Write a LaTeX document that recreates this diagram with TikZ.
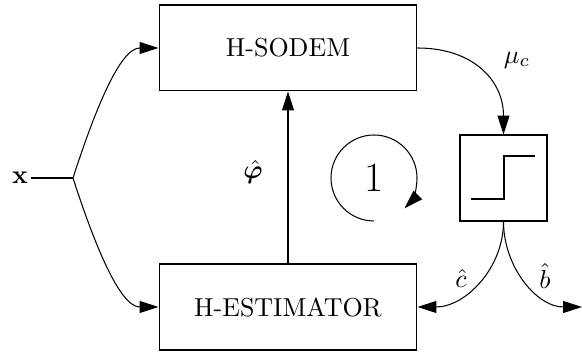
\documentclass[tikz,border=0pt]{standalone}
\usepackage{amsmath}
\usepackage{bm}
\usetikzlibrary{arrows.meta,calc}
\begin{document}
\begin{tikzpicture}[x=0.385pt,y=0.385pt,
  blockbox/.style={draw,minimum width=99.3pt,minimum height=33.1pt,inner sep=0pt},
  stepbox/.style={draw,minimum width=33.5pt,minimum height=33.1pt,inner sep=0pt},
  arr/.style={-{Triangle[length=7.3pt,width=4.6pt]}},
  lbl/.style={inner sep=0pt}]
\useasboundingbox (0,0) rectangle (582,352);
\node[blockbox] (sodem) at (288,304) {H-SODEM};
\node[blockbox] (est) at (288,45) {H-ESTIMATOR};
\node[stepbox] (dec) at (503.5,174) {};
\node[lbl,inner sep=1pt] (xin) at (20,174) {$\mathbf{x}$};
\coordinate (split) at (73,174);
\coordinate (out) at (582,45);
\coordinate (loopc) at (374,174);
\draw (xin.east) -- (split);
\draw[arr] (split) .. controls (95,242) and (120,304) .. (sodem.west);
\draw[arr] (split) .. controls (95,106) and (120,45) .. (est.west);
\draw[arr] (est.north) -- (sodem.south);
\node[lbl] (phi) at (253,180) {$\hat{\bm{\varphi}}$};
\draw[arr] (sodem.east) to[out=0,in=90,looseness=1.15] (dec.north);
\node[lbl] (mu) at (517,292) {$\mu_c$};
\draw[arr] (dec.south) to[out=-90,in=0] (est.east);
\draw[arr] (dec.south) to[out=-90,in=180] (out);
\node[lbl] (chat) at (461,74) {$\hat{c}$};
\node[lbl] (bhat) at (545,76) {$\hat{b}$};
\draw (471,153) -- (504,153) -- (504,196) -- (535,196);
\node[lbl] (one) at (loopc) {\fontsize{16}{18}\selectfont 1};
\draw[arr] ($(loopc)+(0,-43)$) arc[start angle=-90,end angle=-405,radius=43];
\end{tikzpicture}
\end{document}
